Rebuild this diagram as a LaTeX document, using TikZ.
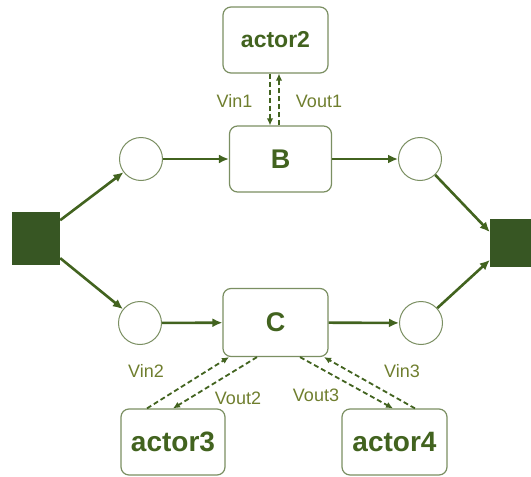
\documentclass[tikz,border=0pt]{standalone}
\usepackage{fontspec}
\setmainfont{Liberation Sans}
\usepackage{xcolor}
\usepackage{tikz}
\usetikzlibrary{calc,arrows.meta}
\definecolor{dark}{HTML}{375623}
\definecolor{ink}{HTML}{42631F}
\definecolor{edge}{HTML}{7B8F62}
\definecolor{olive}{HTML}{6F7E2E}
\tikzset{
  actbox/.style={draw=edge, line width=1.2pt, rounded corners=8pt, fill=white, minimum width=104pt, minimum height=66pt, text=ink},
  place/.style={circle, draw=edge, line width=1pt, minimum size=43pt, inner sep=0pt},
  term/.style={rectangle, fill=dark, inner sep=0pt},
  flow/.style={draw=ink, line width=2.6pt, -{Latex[length=10pt,width=9pt]}},
  sig/.style={draw=ink, line width=1.8pt, dash pattern=on 5pt off 3pt, -{Latex[length=7pt,width=6.5pt]}},
  vlbl/.style={text=olive, font=\fontsize{18}{20}\selectfont}
}

\begin{document}
\begin{tikzpicture}[x=1pt,y=-1pt]
  \useasboundingbox (0,0) rectangle (531,477);

  % terminals
  \node[term, minimum width=48pt, minimum height=53pt] (sqL) at (36,238.5) {};
  \node[term, minimum width=46pt, minimum height=48pt] (sqR) at (513,243) {};

  % places
  \node[place] (pTL) at (141,159) {};
  \node[place] (pBL) at (140,323) {};
  \node[place] (pTR) at (420,159) {};
  \node[place] (pBR) at (421,323) {};

  % transitions and actors
  \node[actbox, minimum width=102pt, font=\fontsize{27}{30}\selectfont\bfseries] (B) at (280.5,159) {B};
  \node[actbox, minimum width=105pt, minimum height=68pt, font=\fontsize{27}{30}\selectfont\bfseries] (C) at (275.5,322.5) {C};
  \node[actbox, minimum width=105pt, font=\fontsize{23}{26}\selectfont\bfseries] (actor2) at (275.5,40) {actor2};
  \node[actbox, font=\fontsize{28}{30}\selectfont\bfseries] (actor3) at (173,442) {actor3};
  \node[actbox, minimum width=105pt, font=\fontsize{28}{30}\selectfont\bfseries] (actor4) at (394.5,442) {actor4};

  % token flow
  \draw[flow] (sqL) -- (pTL);
  \draw[flow] (sqL) -- (pBL);
  \draw[flow] (pTL) -- (B);
  \draw[flow] (pBL) -- (C);
  \draw[flow] (B) -- (pTR);
  \draw[flow] (C) -- (pBR);
  \draw[flow] (pTR) -- ([yshift=11pt]sqR.west);
  \draw[flow] (pBR) -- ([yshift=-17pt]sqR.west);

  % signals
  \draw[sig] ([xshift=-5.5pt]actor2.south) -- ([xshift=-10.5pt]B.north);
  \draw[sig] ([xshift=-1.5pt]B.north) -- ([xshift=3.5pt]actor2.south);
  \draw[sig] ([xshift=-26pt]actor3.north) -- ([xshift=-46.5pt]C.south);
  \draw[sig] ([xshift=-18.5pt]C.south) -- (actor3.north);
  \draw[sig] ([xshift=24.5pt]C.south) -- ([xshift=-1.5pt]actor4.north);
  \draw[sig] ([xshift=20.5pt]actor4.north) -- ([xshift=48.5pt]C.south);

  \node[vlbl] (vin1) at (234.5,101) {Vin1};
  \node[vlbl] (vout1) at (319,101) {Vout1};
  \node[vlbl] (vin2) at (146,371) {Vin2};
  \node[vlbl] (vout2) at (238,398) {Vout2};
  \node[vlbl] (vout3) at (316,395) {Vout3};
  \node[vlbl] (vin3) at (402,371) {Vin3};
\end{tikzpicture}
\end{document}
